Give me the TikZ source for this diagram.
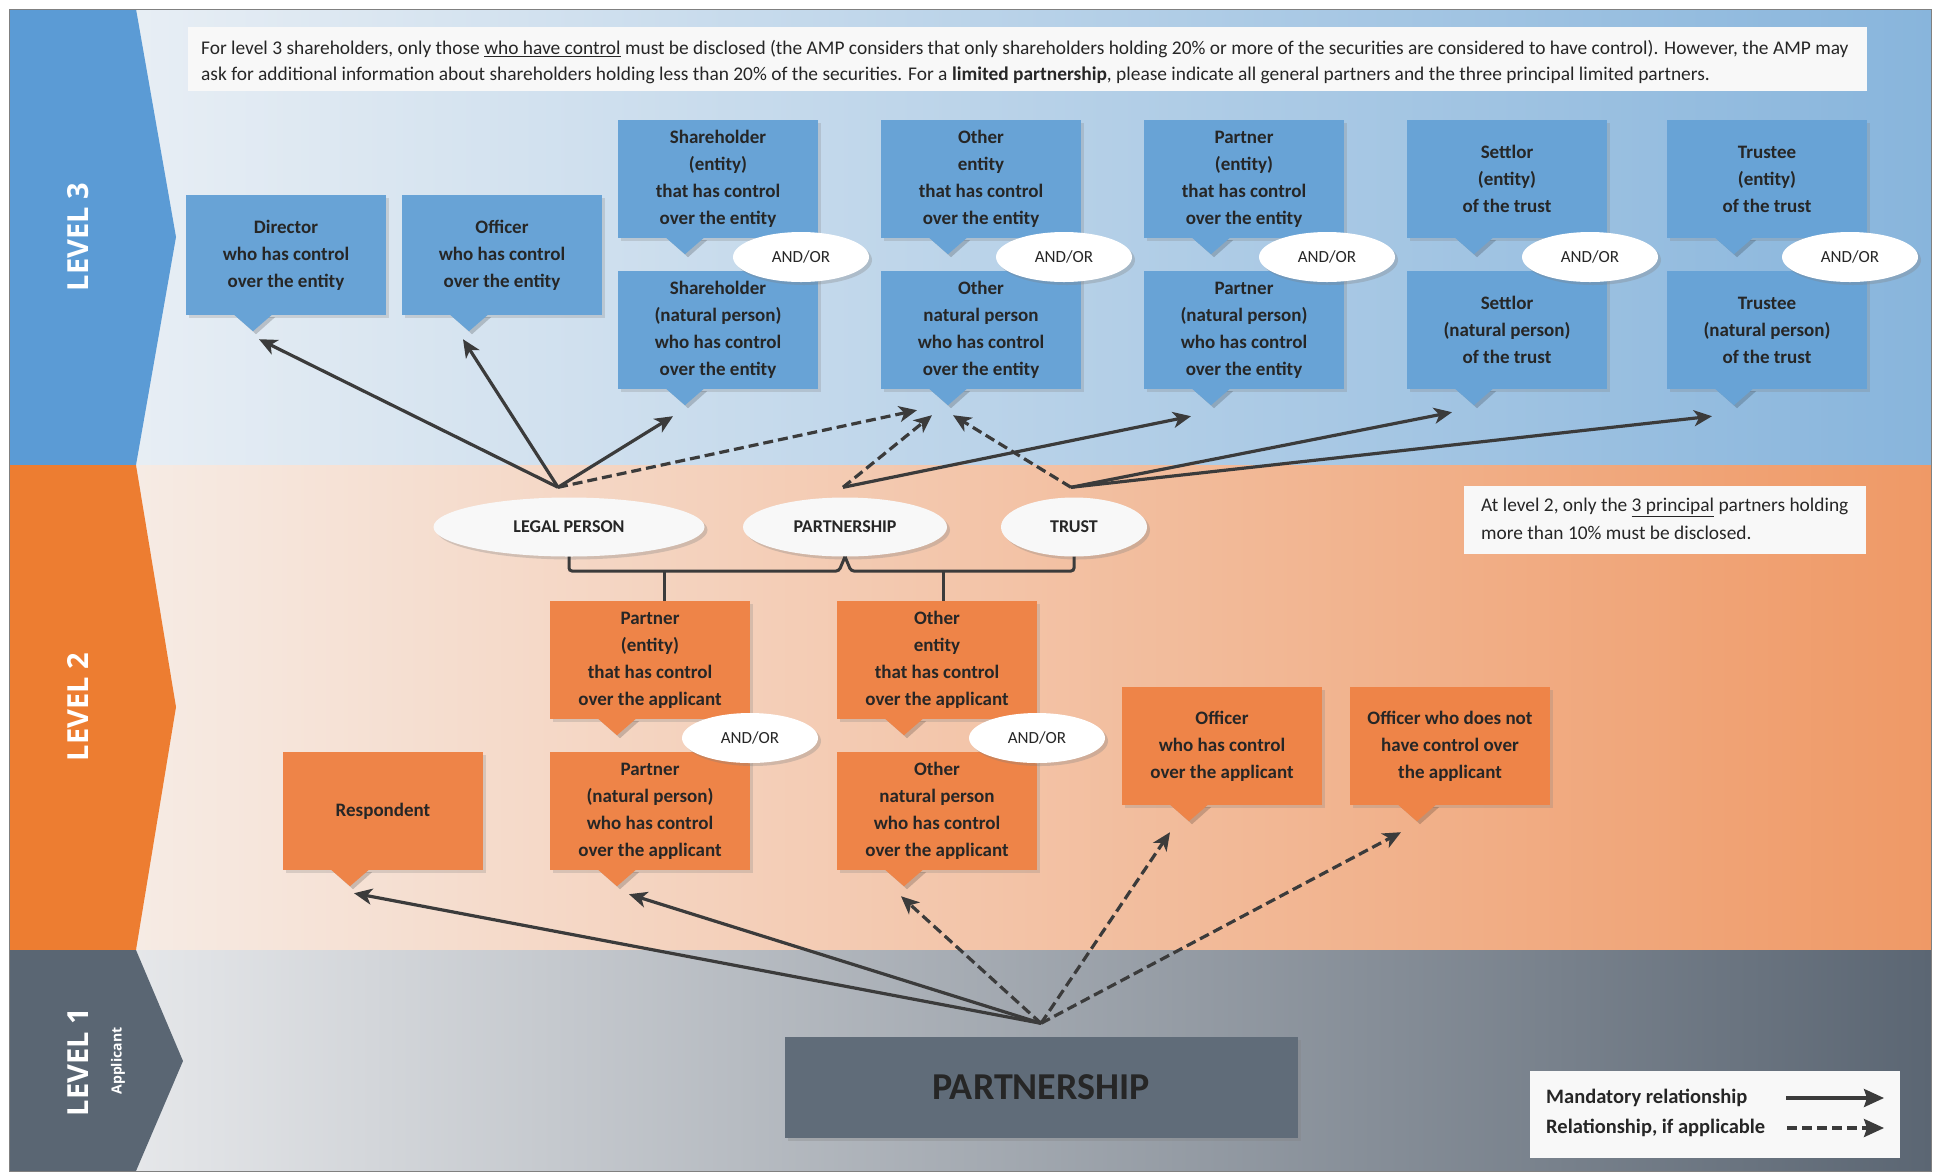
\documentclass[tikz,border=0pt]{standalone}
\usepackage{fontspec}
\setmainfont{Carlito}
\newfontfamily\levelfont{Open Sans}
\usetikzlibrary{arrows.meta,shapes.geometric,shadows,positioning}

\definecolor{bluelvl}{HTML}{5B9BD5}
\definecolor{bluebox}{HTML}{68A3D6}
\definecolor{orangelvl}{HTML}{ED7D31}
\definecolor{orangebox}{HTML}{EE8448}
\definecolor{slatelvl}{HTML}{5A6673}
\definecolor{slatebox}{HTML}{606C79}
\definecolor{bandA}{HTML}{EEF2F6}
\definecolor{bandB}{HTML}{88B5DC}
\definecolor{bandC}{HTML}{F7F1ED}
\definecolor{bandD}{HTML}{EF9966}
\definecolor{bandE}{HTML}{EFF0F2}
\definecolor{bandF}{HTML}{5B6673}
\definecolor{ink}{HTML}{3B3B3B}
\definecolor{txt}{HTML}{262626}
\definecolor{paper}{HTML}{F8F8F8}

% punta sotto il riquadro, con coordinata (nome tip)
\newcommand{\boxtip}[2]{%
  \fill[black, opacity=0.18] ([shift={(-49pt,-2pt)}]#1.south) -- ([shift={(-30pt,-19pt)}]#1.south) -- ([shift={(-11pt,-2pt)}]#1.south) -- cycle;
  \fill[#2] ([shift={(-52pt,0.5pt)}]#1.south) -- ([shift={(-33pt,-16pt)}]#1.south) -- ([shift={(-14pt,0.5pt)}]#1.south) -- cycle;
  \coordinate (#1 tip) at ([shift={(-33pt,-16pt)}]#1.south);}

\begin{document}
\begin{tikzpicture}[x=1pt, y=-1pt,
    box/.style = {rectangle, text=txt, align=center, inner sep=0pt,
        minimum width=200pt, minimum height=118pt,
        font=\fontsize{19}{27}\selectfont\bfseries,
        drop shadow={opacity=0.25, shadow xshift=3pt, shadow yshift=-3pt}},
    blue/.style = {box, fill=bluebox},
    orange/.style = {box, fill=orangebox},
    oval/.style = {ellipse, fill=paper, text=txt, inner sep=0pt, minimum height=59pt,
        font=\fontsize{18}{20}\selectfont\bfseries,
        drop shadow={opacity=0.3, shadow xshift=3pt, shadow yshift=-3pt}},
    andor/.style = {oval, minimum width=136pt, minimum height=50pt, fill=white,
        font=\fontsize{17}{20}\selectfont},
    note/.style = {anchor=west, inner sep=0pt, text=txt, font=\fontsize{19.4}{26}\selectfont},
    level/.style = {rotate=90, text=white, font=\levelfont\fontsize{29}{30}\selectfont\bfseries},
    must/.style = {draw=ink, line width=3.2pt, -{Stealth[length=18pt,width=16pt,inset=5pt]}},
    maybe/.style = {must, dash pattern=on 10pt off 5pt},
    bracket/.style = {draw=ink, line width=3pt, rounded corners=3pt}]

    \useasboundingbox (0,0) rectangle (1935,1171);
    \fill[white] (0,0) rectangle (1935,1171);

    % Disegna i livelli
    \shade[left color=bandA, right color=bandB] (9,9) rectangle (1931,465);
    \shade[left color=bandC, right color=bandD] (9,465) rectangle (1931,950);
    \shade[left color=bandE, right color=bandF] (9,950) rectangle (1931,1171);
    \fill[bluelvl] (9,9) -- (136,9) -- (176,237) -- (136,465) -- (9,465) -- cycle;
    \fill[orangelvl] (9,465) -- (136,465) -- (176,707) -- (136,950) -- (9,950) -- cycle;
    \fill[slatelvl] (9,950) -- (136,950) -- (183,1061) -- (136,1171) -- (9,1171) -- cycle;
    \draw[gray, line width=1pt] (9,9) rectangle (1931,1171);

    \node[level] (lvl3) at (78,237) {LEVEL 3};
    \node[level] (lvl2) at (78,707) {LEVEL 2};
    \node[level] (lvl1) at (78,1062) {LEVEL 1};
    \node[level, font=\levelfont\fontsize{14}{15}\selectfont\bfseries] (appl) at (118,1061) {Applicant};

    \node[fill=paper, minimum width=1679pt, minimum height=64pt] (note3) at (1027.5,59) {};
    \node[note] (note3a) at (201,49) {For level 3 shareholders, only those \underline{who have control} must be disclosed (the AMP considers that only shareholders holding 20\% or more of the securities are considered to have control). However, the AMP may};
    \node[note] (note3b) at (201,75) {ask for additional information about shareholders holding less than 20\% of the securities. For a \textbf{limited partnership}, please indicate all general partners and the three principal limited partners.};

    \node[fill=paper, minimum width=402pt, minimum height=68pt] (note2) at (1665,520) {};
    \node[note] (note2a) at (1481,507) {At level 2, only the \underline{3 principal} partners holding};
    \node[note] (note2b) at (1481,533) {more than 10\% must be disclosed.};

    % Livello 3
    \node[blue, minimum height=120pt] (dir) at (286,255) {Director\\who has control\\over the entity};
    \node[blue, minimum height=120pt] (off3) at (502,255) {Officer\\who has control\\over the entity};
    \node[blue] (sh3e) at (718,179) {Shareholder\\(entity)\\that has control\\over the entity};
    \node[blue] (sh3n) at (718,330) {Shareholder\\(natural person)\\who has control\\over the entity};
    \node[blue] (ot3e) at (981,179) {Other\\entity\\that has control\\over the entity};
    \node[blue] (ot3n) at (981,330) {Other\\natural person\\who has control\\over the entity};
    \node[blue] (pa3e) at (1244,179) {Partner\\(entity)\\that has control\\over the entity};
    \node[blue] (pa3n) at (1244,330) {Partner\\(natural person)\\who has control\\over the entity};
    \node[blue] (se3e) at (1507,179) {Settlor\\(entity)\\of the trust};
    \node[blue] (se3n) at (1507,330) {Settlor\\(natural person)\\of the trust};
    \node[blue] (tr3e) at (1767,179) {Trustee\\(entity)\\of the trust};
    \node[blue] (tr3n) at (1767,330) {Trustee\\(natural person)\\of the trust};
    \boxtip{dir}{bluebox} \boxtip{off3}{bluebox}
    \boxtip{sh3e}{bluebox} \boxtip{sh3n}{bluebox}
    \boxtip{ot3e}{bluebox} \boxtip{ot3n}{bluebox}
    \boxtip{pa3e}{bluebox} \boxtip{pa3n}{bluebox}
    \boxtip{se3e}{bluebox} \boxtip{se3n}{bluebox}
    \boxtip{tr3e}{bluebox} \boxtip{tr3n}{bluebox}

    \node[andor] (ao1) at (801,257) {AND/OR};
    \node[andor] (ao2) at (1064,257) {AND/OR};
    \node[andor] (ao3) at (1327,257) {AND/OR};
    \node[andor] (ao4) at (1590,257) {AND/OR};
    \node[andor] (ao5) at (1850,257) {AND/OR};

    % Livello 2
    \node[oval, minimum width=271pt] (legal) at (569,527) {LEGAL PERSON};
    \node[oval, minimum width=204pt] (partn) at (845,527) {PARTNERSHIP};
    \node[oval, minimum width=146pt] (trust) at (1074,527) {TRUST};

    \node[orange] (pa2e) at (650,660) {Partner\\(entity)\\that has control\\over the applicant};
    \node[orange] (pa2n) at (650,811) {Partner\\(natural person)\\who has control\\over the applicant};
    \node[orange] (ot2e) at (937,660) {Other\\entity\\that has control\\over the applicant};
    \node[orange] (ot2n) at (937,811) {Other\\natural person\\who has control\\over the applicant};
    \node[orange] (resp) at (383,811) {Respondent};
    \node[orange] (off2) at (1222,746) {Officer\\who has control\\over the applicant};
    \node[orange] (offno) at (1450,746) {Officer who does not\\have control over\\the applicant};
    \boxtip{pa2e}{orangebox} \boxtip{pa2n}{orangebox}
    \boxtip{ot2e}{orangebox} \boxtip{ot2n}{orangebox}
    \boxtip{resp}{orangebox} \boxtip{off2}{orangebox}
    \boxtip{offno}{orangebox}

    \node[andor] (ao6) at (750,738) {AND/OR};
    \node[andor] (ao7) at (1037,738) {AND/OR};

    \draw[bracket] (legal.south) |- (839,571) -- (partn.south);
    \draw[bracket] (trust.south) |- (851,571) -- (partn.south);
    \draw[bracket] (664,571) -- (pa2e.north -| 664,571);
    \draw[bracket] (943,571) -- (ot2e.north -| 943,571);

    % Livello 1
    \node[fill=slatebox, minimum width=513pt, minimum height=101pt, text=txt,
        font=\fontsize{38}{40}\selectfont\bfseries,
        drop shadow={opacity=0.3, shadow xshift=3pt, shadow yshift=-3pt}] (applicant) at (1041,1087) {PARTNERSHIP};

    \node[fill=paper, minimum width=370pt, minimum height=87pt] (legend) at (1715,1114) {};
    \node[note, font=\fontsize{20.5}{24}\selectfont\bfseries] (mandatory) at (1546,1098) {Mandatory relationship};
    \node[note, font=\fontsize{20.5}{24}\selectfont\bfseries] (optional) at (1546,1128) {Relationship, if applicable};
    \coordinate (mandA) at (1786,1098);
    \coordinate (mandB) at (1884,1098);
    \coordinate (optA) at (1787,1128);
    \coordinate (optB) at (1884,1128);
    \draw[must, -{Stealth[length=20pt,width=18pt,inset=3pt]}] (mandA) to (mandB);
    \draw[maybe, -{Stealth[length=20pt,width=18pt,inset=3pt]}] (optA) to (optB);

    % Frecce
    \coordinate (lpTop) at ([shift={(-11pt,10pt)}]legal.north);
    \coordinate (paTop) at ([shift={(-2pt,10pt)}]partn.north);
    \coordinate (trTop) at ([shift={(-3pt,10pt)}]trust.north);
    \coordinate (apTop) at ([yshift=13pt]applicant.north);

    \draw[must] (lpTop) to ([shift={(6pt,-8pt)}]dir tip);
    \draw[must] (lpTop) to ([shift={(-6pt,-8pt)}]off3 tip);
    \draw[must] (lpTop) to ([shift={(-12pt,-11pt)}]sh3n tip);
    \draw[maybe] (lpTop) to ([shift={(-31pt,-5pt)}]ot3n tip);
    \draw[maybe] (paTop) to ([shift={(-16pt,-10pt)}]ot3n tip);
    \draw[must] (paTop) to ([shift={(-20pt,-11pt)}]pa3n tip);
    \draw[maybe] (trTop) to ([shift={(5pt,-10pt)}]ot3n tip);
    \draw[must] (trTop) to ([shift={(-22pt,-7pt)}]se3n tip);
    \draw[must] (trTop) to ([shift={(-22pt,-11pt)}]tr3n tip);

    \draw[must] (apTop) to ([shift={(4pt,-7pt)}]resp tip);
    \draw[must] (apTop) to ([shift={(12pt,-8pt)}]pa2n tip);
    \draw[maybe] (apTop) to ([shift={(-3pt,-10pt)}]ot2n tip);
    \draw[maybe] (apTop) to ([shift={(-19pt,-11pt)}]off2 tip);
    \draw[maybe] (apTop) to ([shift={(-16pt,-11pt)}]offno tip);

\end{tikzpicture}
\end{document}
